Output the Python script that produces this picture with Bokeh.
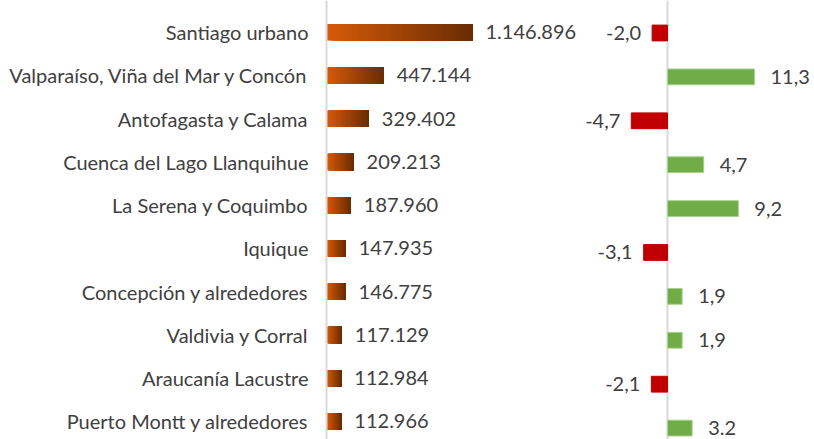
from bokeh.plotting import figure
from bokeh.models import Range1d, FixedTicker
from bokeh.embed import file_html
from bokeh.resources import INLINE

regions = ["Santiago urbano", "Valparaíso, Viña del Mar y Concón", "Antofagasta y Calama",
           "Cuenca del Lago Llanquihue", "La Serena y Coquimbo", "Iquique",
           "Concepción y alrededores", "Valdivia y Corral", "Araucanía Lacustre",
           "Puerto Montt y alrededores"]
population = [1146896, 447144, 329402, 209213, 187960, 147935, 146775, 117129, 112984, 112966]
change = [-2.0, 11.3, -4.7, 4.7, 9.2, -3.1, 1.9, 1.9, -2.1, 3.2]
change_labels = ["-2,0", "11,3", "-4,7", "4,7", "9,2", "-3,1", "1,9", "1,9", "-2,1", "3.2"]

FONT = "Lato"
FS = "20px"
TXT = "#404040"

idx = list(range(len(regions)))

p = figure(width=814, height=439, output_backend="svg", toolbar_location=None,
           x_range=Range1d(-3941, 3842500), y_range=Range1d(9.417, -0.733),
           min_border_left=326, min_border_right=0, min_border_top=0, min_border_bottom=0)
p.extra_x_ranges = {"chg": Range1d(-44.29, 19.09)}
p.extra_y_ranges = {"chgy": Range1d(9.26, -0.740)}

p.xaxis.visible = False
p.xgrid.visible = False
p.ygrid.visible = False
p.outline_line_color = None
p.background_fill_color = "white"
p.border_fill_color = "white"

yax = p.yaxis[0]
yax.ticker = FixedTicker(ticks=idx)
yax.major_label_overrides = {i: r for i, r in zip(idx, regions)}
yax.major_tick_line_color = None
yax.minor_tick_line_color = None
yax.axis_line_color = "#d9d9d9"
yax.axis_line_width = 2
yax.major_label_standoff = 12
yax.major_label_text_font = FONT
yax.major_label_text_font_size = FS
yax.major_label_text_color = TXT

# gradient bars: overlapping slices drawn from left to right (each reaches the bar end)
N = 60
c0 = (213, 90, 10)
c1 = (106, 45, 2)
gl, gr, gy, gc = [], [], [], []
for i, v in zip(idx, population):
    for k in range(N):
        t = k / (N - 1)
        col = "#%02x%02x%02x" % tuple(int(round(a + (b - a) * t)) for a, b in zip(c0, c1))
        gl.append(v * k / N)
        gr.append(v)
        gy.append(i)
        gc.append(col)
p.hbar(y=gy, left=gl, right=gr, height=0.38, fill_color=gc, line_color=None)

pop_labels = [f"{v:,}".replace(",", ".") for v in population]
p.text(x=population, y=idx, text=pop_labels, x_offset=13, text_baseline="middle",
       text_align="left", text_font={"value": FONT}, text_font_size=FS, text_color=TXT)

# change bars
p.vspan(x=[0], x_range_name="chg", line_color="#d9d9d9", line_width=2)
cols = ["#70ad47" if v >= 0 else "#c00000" for v in change]
lcols = ["#a9d18e" if v >= 0 else "#c00000" for v in change]
p.hbar(y=idx, left=0, right=change, height=0.36, fill_color=cols, line_color=lcols,
       line_width=1, x_range_name="chg", y_range_name="chgy")

pos = [(v, i, l) for v, i, l in zip(change, idx, change_labels) if v >= 0]
neg = [(v, i, l) for v, i, l in zip(change, idx, change_labels) if v < 0]
p.text(x=[a[0] for a in pos], y=[a[1] for a in pos], text=[a[2] for a in pos], x_offset=16,
       text_baseline="middle", text_align="left", text_font={"value": FONT}, text_font_size=FS,
       text_color=TXT, x_range_name="chg", y_range_name="chgy")
p.text(x=[a[0] for a in neg], y=[a[1] for a in neg], text=[a[2] for a in neg], x_offset=-11,
       text_baseline="middle", text_align="right", text_font={"value": FONT}, text_font_size=FS,
       text_color=TXT, x_range_name="chg", y_range_name="chgy")

open("out.html", "w").write(file_html(p, INLINE))
